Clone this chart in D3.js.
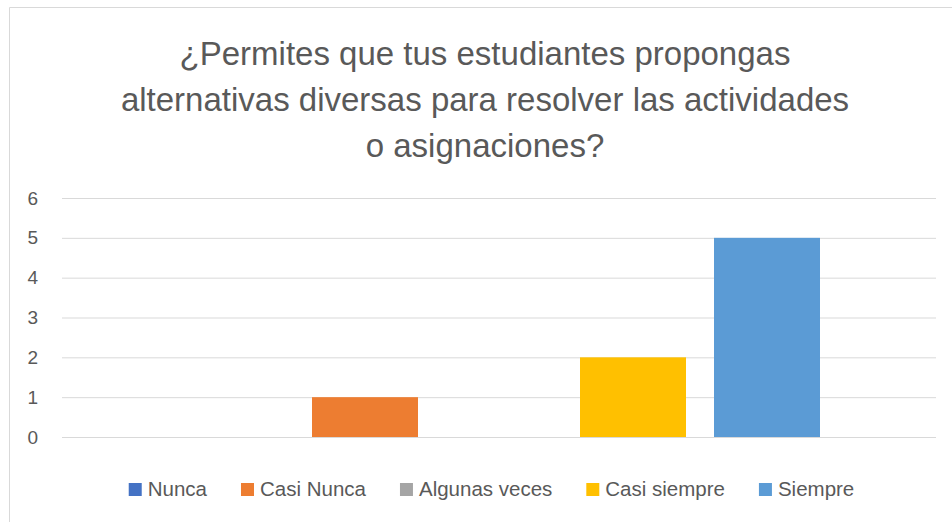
<!DOCTYPE html>
<html>
<head>
<meta charset="utf-8">
<script src="https://cdn.jsdelivr.net/npm/d3@7"></script>
<style>
  body { margin: 0; background: #fff; }
  svg { display: block; font-family: "Liberation Sans", Arial, sans-serif; }
</style>
</head>
<body>
<div id="chart1"></div>
<script>
var w = 952,
  h = 522;

// data
var titleLines = ["¿Permites que tus estudiantes propongas",
                  "alternativas diversas para resolver las actividades",
                  "o asignaciones?"];
var categories = [""];
var series = ["Nunca", "Casi Nunca", "Algunas veces", "Casi siempre", "Siempre"];
var values = [0, 1, 0, 2, 5];
var colors = ["#4472C4", "#ED7D31", "#A5A5A5", "#FFC000", "#5B9BD5"];
var yTicks = [0, 1, 2, 3, 4, 5, 6];

var textColor = "#595959";
var gridColor = "#d9d9d9";

// plot area (window.top is reserved, so prefixed names)
var plotLeft = 62, plotRight = 936, plotTop = 198, plotBottom = 437;

draw();

function draw() {
  var svg = d3.select("#chart1").append("svg").attr("width", w).attr("height", h);

  // chart border (only left and top are visible in the picture)
  svg.append("path").attr("d", "M 9.5 " + h + " V 7.5 H " + w)
    .style("fill", "none").style("stroke", gridColor).style("stroke-width", 1);

  // title
  var title = svg.append("text").attr("text-anchor", "middle")
    .style("font-size", "33px").style("fill", textColor);
  title.selectAll("tspan").data(titleLines).enter().append("tspan")
    .attr("x", 485).attr("y", function (d, i) { return 65 + i * 46; })
    .text(function (d) { return d; });

  var y = d3.scaleLinear().domain([0, 6]).range([plotBottom, plotTop]);

  var x0 = d3.scaleBand().domain(categories).range([plotLeft, plotRight])
    .paddingInner(0).paddingOuter(0.1807);
  var x1 = d3.scaleBand().domain(series).range([0, x0.bandwidth()])
    .paddingInner(0.209).paddingOuter(0);

  // gridlines + y labels
  var yAxis = d3.axisLeft(y).tickValues(yTicks).tickSize(-(plotRight - plotLeft)).tickPadding(24)
    .tickFormat(d3.format("d"));
  var ga = svg.append("g").attr("transform", "translate(" + plotLeft + ",0)").call(yAxis);
  ga.select(".domain").remove();
  ga.selectAll(".tick line").style("stroke", gridColor).style("stroke-width", 1);
  ga.selectAll(".tick text").style("font-size", "19px").style("fill", textColor)
    .style("font-family", "'Liberation Sans', Arial, sans-serif");

  // bars
  var g = svg.append("g");
  categories.forEach(function (c) {
    g.selectAll("rect").data(series).enter().append("rect")
      .attr("x", function (s) { return x0(c) + x1(s); })
      .attr("width", x1.bandwidth())
      .attr("y", function (s, i) { return y(values[i]); })
      .attr("height", function (s, i) { return y(0) - y(values[i]); })
      .style("fill", function (s, i) { return colors[i]; });
  });

  // legend
  var leg = svg.append("g");
  var items = leg.selectAll("g").data(series).enter().append("g");
  items.append("rect").attr("width", 13).attr("height", 13).attr("y", 483)
    .style("fill", function (d, i) { return colors[i]; });
  items.append("text").attr("x", 19).attr("y", 496)
    .style("font-size", "20.5px").style("fill", textColor)
    .text(function (d) { return d; });

  var gap = 34;
  var pos = 0;
  items.each(function () {
    var tw = d3.select(this).select("text").node().getComputedTextLength();
    d3.select(this).attr("data-x", pos);
    pos = pos + 19 + tw + gap;
  });
  var total = pos - gap;
  var start = 491.5 - total / 2;
  items.attr("transform", function () {
    return "translate(" + (start + (+d3.select(this).attr("data-x"))) + ",0)";
  });
}
</script>
</body>
</html>
